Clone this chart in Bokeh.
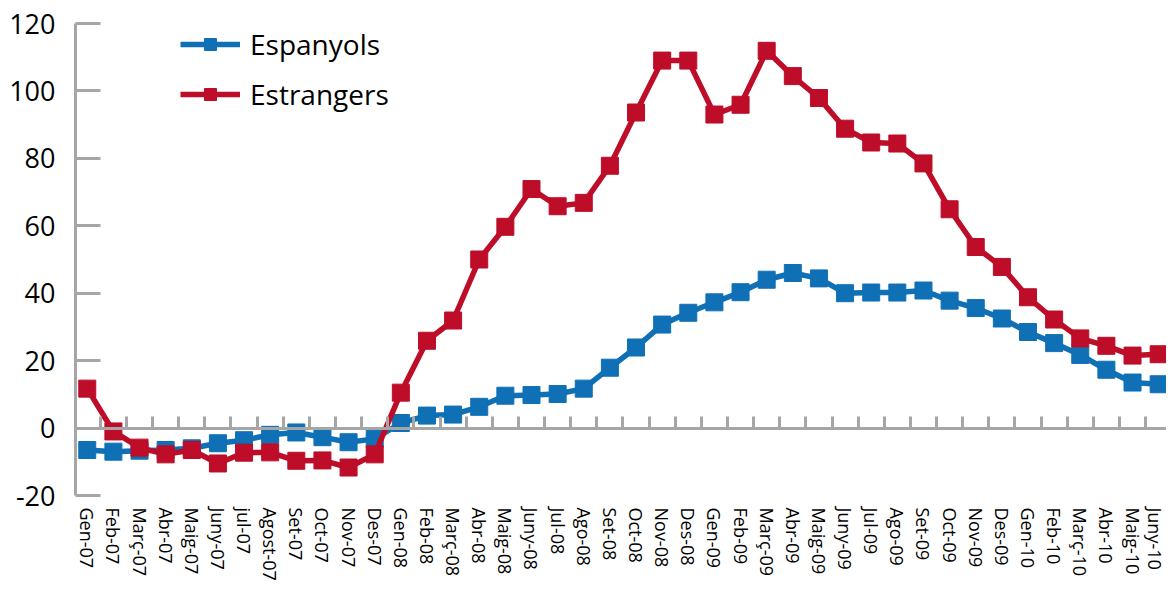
from bokeh.plotting import figure
from bokeh.models import Range1d, LinearAxis, FixedTicker, Legend, LegendItem
from bokeh.embed import file_html
from bokeh.resources import INLINE

months = ["Gen-07", "Feb-07", "Març-07", "Abr-07", "Maig-07", "Juny-07", "jul-07", "Agost-07",
          "Set-07", "Oct-07", "Nov-07", "Des-07",
          "Gen-08", "Feb-08", "Març-08", "Abr-08", "Maig-08", "Juny-08", "Jul-08", "Ago-08",
          "Set-08", "Oct-08", "Nov-08", "Des-08",
          "Gen-09", "Feb-09", "Març-09", "Abr-09", "Maig-09", "Juny-09", "Jul-09", "Ago-09",
          "Set-09", "Oct-09", "Nov-09", "Des-09",
          "Gen-10", "Feb-10", "Març-10", "Abr-10", "Maig-10", "Juny-10"]

espanyols = [-6.5, -7.0, -6.7, -6.5, -6.0, -4.5, -3.6, -2.0, -1.3, -2.7, -4.2, -3.2,
             1.5, 3.7, 4.0, 6.3, 9.6, 9.8, 10.1, 11.7, 17.9, 23.9, 30.7, 34.2,
             37.3, 40.3, 44.0, 46.0, 44.4, 40.0, 40.2, 40.2, 40.8, 37.8, 35.6, 32.5,
             28.5, 25.2, 21.7, 17.3, 13.5, 13.0]

estrangers = [11.7, -1.0, -5.8, -7.8, -6.5, -10.5, -7.3, -7.2, -9.7, -9.6, -11.7, -7.8,
              10.5, 25.9, 31.9, 50.0, 59.7, 70.9, 65.8, 66.8, 77.8, 93.6, 109.0, 109.0,
              93.0, 95.9, 111.9, 104.4, 97.9, 88.8, 84.7, 84.4, 78.5, 64.9, 53.7, 47.8,
              38.8, 32.2, 26.6, 24.4, 21.5, 21.9]

y_ticks = [-20, 0, 20, 40, 60, 80, 100, 120]
y_tick_labels = ["-20", "0", "20", "40", "60", "80", "100", "120"]

BLUE = "#0f70b6"
RED = "#be0d29"
GRAY = "#a6a6a6"
FONT = "Open Sans"

xs = list(range(len(months)))

p = figure(width=1166, height=587, output_backend="svg", toolbar_location=None,
           x_range=Range1d(-0.45, 41.3), y_range=Range1d(-20, 120),
           min_border_left=75, min_border_right=0, min_border_top=23, min_border_bottom=92,
           x_axis_location=None, y_axis_location=None)
p.outline_line_color = None
p.xgrid.visible = False
p.ygrid.visible = False
p.background_fill_color = "white"
p.border_fill_color = "white"

# y axis
yax = LinearAxis(ticker=FixedTicker(ticks=y_ticks),
                 major_label_overrides={t: s for t, s in zip(y_ticks, y_tick_labels)})
yax.axis_line_color = GRAY
yax.axis_line_width = 3
yax.major_tick_line_color = GRAY
yax.major_tick_line_width = 3
yax.major_tick_in = 25
yax.major_tick_out = 0
yax.minor_tick_line_color = None
yax.major_label_text_font = FONT
yax.major_label_text_font_size = "27px"
yax.major_label_text_color = "black"
yax.major_label_standoff = 20
p.add_layout(yax, "left")

# x labels axis at the bottom
xlab = LinearAxis(ticker=FixedTicker(ticks=xs),
                  major_label_overrides={i: m for i, m in zip(xs, months)})
xlab.axis_line_color = None
xlab.major_tick_line_color = None
xlab.major_tick_in = 0
xlab.major_tick_out = 0
xlab.minor_tick_line_color = None
xlab.major_label_orientation = "vertical"
xlab.major_label_text_font = FONT
xlab.major_label_text_font_size = "18px"
xlab.major_label_text_color = "black"
xlab.major_label_standoff = 12
p.add_layout(xlab, "below")

# zero axis with category-boundary ticks
zax = LinearAxis(ticker=FixedTicker(ticks=[], minor_ticks=[i + 0.5 for i in xs]),
                 fixed_location=0)
zax.axis_line_color = GRAY
zax.axis_line_width = 3
zax.major_tick_line_color = None
zax.minor_tick_line_color = GRAY
zax.minor_tick_line_width = 3
zax.minor_tick_in = 12
zax.minor_tick_out = 0
zax.major_label_text_font_size = "0px"
p.add_layout(zax, "below")

r1 = p.line(xs, espanyols, line_color=BLUE, line_width=5.5)
s1 = p.scatter(xs, espanyols, marker="square", size=17, fill_color=BLUE, line_color=BLUE)
r2 = p.line(xs, estrangers, line_color=RED, line_width=5.5)
s2 = p.scatter(xs, estrangers, marker="square", size=17, fill_color=RED, line_color=RED)

legend = Legend(items=[LegendItem(label="Espanyols", renderers=[r1, s1]),
                       LegendItem(label="Estrangers", renderers=[r2, s2])],
                location=(105, 382))
legend.label_text_font = FONT
legend.label_text_font_size = "28px"
legend.label_text_color = "black"
legend.glyph_width = 60
legend.glyph_height = 30
legend.label_height = 30
legend.label_standoff = 10
legend.spacing = 12
legend.padding = 5
legend.margin = 0
legend.border_line_color = None
legend.background_fill_alpha = 0
p.add_layout(legend, "center")

open("out.html", "w").write(file_html(p, INLINE))
